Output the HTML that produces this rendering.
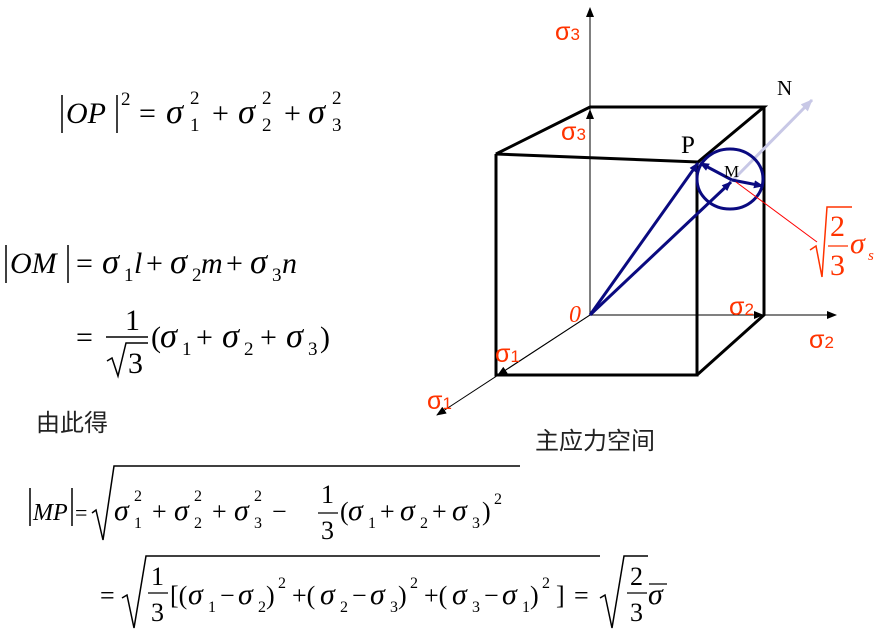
<!DOCTYPE html>
<html><head><meta charset="utf-8"><style>
body{margin:0;background:#fff}
svg{display:block}
.t{font-family:"Liberation Serif",serif;fill:#000}
.r{font-family:"Liberation Sans",sans-serif;fill:#ff3300}
.i{font-style:italic}
.s{font-size:1.15em}
</style></head><body>
<svg width="884" height="636" viewBox="0 0 884 636" xmlns="http://www.w3.org/2000/svg">
<defs>
<marker id="ak" markerWidth="10" markerHeight="8" refX="9" refY="4" orient="auto" markerUnits="userSpaceOnUse"><path d="M0,0 L10,4 L0,8 Z" fill="#000"/></marker>
<marker id="ab" markerWidth="10" markerHeight="8" refX="9" refY="4" orient="auto" markerUnits="userSpaceOnUse"><path d="M0,0 L10,4 L0,8 Z" fill="#0a0a80"/></marker>
<marker id="al" markerWidth="12" markerHeight="10" refX="11" refY="5" orient="auto" markerUnits="userSpaceOnUse"><path d="M0,0 L12,5 L0,10 Z" fill="#c8c8e6"/></marker>
</defs>
<g stroke="#000" stroke-width="1">
<line x1="590" y1="315" x2="590" y2="8" marker-end="url(#ak)"/>
<line x1="590" y1="315" x2="836" y2="315" marker-end="url(#ak)"/>
<line x1="590" y1="315" x2="437" y2="415" marker-end="url(#ak)"/>
<line x1="590" y1="315" x2="590" y2="110" marker-end="url(#ak)"/>
<line x1="590" y1="315" x2="763" y2="315" marker-end="url(#ak)"/>
<line x1="590" y1="315" x2="498" y2="375" marker-end="url(#ak)"/>
</g>
<g stroke="#000" stroke-width="3" fill="none">
<polygon points="590,107 764,107 698,162 496,154"/>
<polyline points="496,154 496,375 697,375 697,162"/>
<polyline points="764,107 764,315 697,375"/>
</g>
<line x1="732" y1="181" x2="812" y2="100" stroke="#c8c8e6" stroke-width="3" marker-end="url(#al)"/>
<ellipse cx="730" cy="179" rx="33" ry="30" fill="none" stroke="#0a0a80" stroke-width="3"/>
<g stroke="#0a0a80" stroke-width="3" fill="none">
<line x1="590" y1="315" x2="698" y2="163" marker-end="url(#ab)"/>
<line x1="590" y1="315" x2="731" y2="182" marker-end="url(#ab)"/>
<line x1="732" y1="180" x2="700" y2="163" marker-end="url(#ab)"/>
<line x1="732" y1="180" x2="763" y2="186" marker-end="url(#ab)"/>
</g>
<line x1="736" y1="182" x2="817" y2="242" stroke="#ff0000" stroke-width="1"/>
<g class="r" font-size="25">
<text x="555" y="40">σ<tspan font-size="17">3</tspan></text>
<text x="561" y="140">σ<tspan font-size="17">3</tspan></text>
<text x="729" y="315">σ<tspan font-size="17">2</tspan></text>
<text x="809" y="348">σ<tspan font-size="17">2</tspan></text>
<text x="495" y="362">σ<tspan font-size="17">1</tspan></text>
<text x="427" y="409">σ<tspan font-size="17">1</tspan></text>
</g>
<text x="569" y="322" font-family="Liberation Serif,serif" font-style="italic" font-size="24" fill="#ff3300">0</text>
<text x="681" y="153" class="t" font-size="25">P</text>
<text x="724" y="177" class="t" font-size="17">M</text>
<text x="777" y="95" class="t" font-size="21">N</text>
<g font-family="Liberation Serif,serif" fill="#ff3300">
<path d="M810,250 L816,246 L822,277 L827,207 L852,207" stroke="#ff3300" stroke-width="1.5" fill="none"/>
<text x="830" y="236" font-size="30">2</text>
<line x1="828" y1="246" x2="848" y2="246" stroke="#ff3300" stroke-width="1.2"/>
<text x="830" y="275" font-size="30">3</text>
<text x="850" y="253" font-size="30" font-style="italic">σ</text>
<text x="868" y="260" font-size="15" font-style="italic">s</text>
</g>
<text x="36" y="431" font-family="Noto Sans CJK SC,sans-serif" font-size="24" fill="#222">由此得</text>
<text x="535" y="449" font-family="Noto Sans CJK SC,sans-serif" font-size="24" fill="#222">主应力空间</text>
<g class="t" font-size="30">
<line x1="62" y1="95" x2="62" y2="133" stroke="#000" stroke-width="1.5"/>
<text x="66" y="123" class="i">OP</text>
<line x1="117" y1="95" x2="117" y2="133" stroke="#000" stroke-width="1.5"/>
<text x="121" y="105" font-size="19">2</text>
<text x="139" y="123">=</text>
<text x="166" y="123" class="i s">σ</text><text x="190" y="131" font-size="19">1</text><text x="190" y="104" font-size="19">2</text>
<text x="212" y="123">+</text>
<text x="238" y="123" class="i s">σ</text><text x="262" y="131" font-size="19">2</text><text x="262" y="104" font-size="19">2</text>
<text x="284" y="123">+</text>
<text x="308" y="123" class="i s">σ</text><text x="332" y="131" font-size="19">3</text><text x="332" y="104" font-size="19">2</text>
</g>
<g class="t" font-size="30">
<line x1="6" y1="245" x2="6" y2="283" stroke="#000" stroke-width="1.5"/>
<text x="10" y="273" class="i">OM</text>
<line x1="68" y1="245" x2="68" y2="283" stroke="#000" stroke-width="1.5"/>
<text x="76" y="273">=</text>
<text x="102" y="273" class="i s">σ</text><text x="124" y="281" font-size="19">1</text><text x="134" y="273" class="i">l</text>
<text x="146" y="273">+</text>
<text x="170" y="273" class="i s">σ</text><text x="192" y="281" font-size="19">2</text><text x="201" y="273" class="i">m</text>
<text x="226" y="273">+</text>
<text x="250" y="273" class="i s">σ</text><text x="272" y="281" font-size="19">3</text><text x="282" y="273" class="i">n</text>
</g>
<g class="t" font-size="30">
<text x="76" y="347">=</text>
<text x="125" y="330">1</text>
<line x1="106" y1="337" x2="148" y2="337" stroke="#000" stroke-width="1.5"/>
<path d="M107,361 L112,358 L118,376 L126,343 L148,343" stroke="#000" stroke-width="1.5" fill="none"/>
<text x="128" y="373">3</text>
<text x="151" y="347">(</text>
<text x="160" y="347" class="i s">σ</text><text x="182" y="355" font-size="19">1</text>
<text x="196" y="347">+</text>
<text x="222" y="347" class="i s">σ</text><text x="244" y="355" font-size="19">2</text>
<text x="260" y="347">+</text>
<text x="286" y="347" class="i s">σ</text><text x="308" y="355" font-size="19">3</text>
<text x="320" y="347">)</text>
</g>
<g class="t" font-size="26">
<line x1="30" y1="488" x2="30" y2="526" stroke="#000" stroke-width="1.5"/>
<text x="33" y="520" class="i" font-size="24">MP</text>
<line x1="72" y1="488" x2="72" y2="526" stroke="#000" stroke-width="1.5"/>
<text x="75" y="520" font-size="22">=</text>
<path d="M92,513 L96,510 L103,540 L114,466 L520,466" stroke="#000" stroke-width="1.5" fill="none"/>
<text x="114" y="520" class="i s">σ</text><text x="134" y="528" font-size="16">1</text><text x="134" y="501" font-size="16">2</text>
<text x="152" y="520">+</text>
<text x="174" y="520" class="i s">σ</text><text x="194" y="528" font-size="16">2</text><text x="194" y="501" font-size="16">2</text>
<text x="212" y="520">+</text>
<text x="234" y="520" class="i s">σ</text><text x="254" y="528" font-size="16">3</text><text x="254" y="501" font-size="16">2</text>
<text x="272" y="520">−</text>
<text x="321" y="503">1</text>
<line x1="318" y1="513" x2="338" y2="513" stroke="#000" stroke-width="1.3"/>
<text x="321" y="539">3</text>
<text x="340" y="520">(</text>
<text x="348" y="520" class="i s">σ</text><text x="368" y="528" font-size="16">1</text>
<text x="380" y="520">+</text>
<text x="400" y="520" class="i s">σ</text><text x="420" y="528" font-size="16">2</text>
<text x="432" y="520">+</text>
<text x="452" y="520" class="i s">σ</text><text x="472" y="528" font-size="16">3</text>
<text x="482" y="520">)</text><text x="494" y="504" font-size="16">2</text>
</g>
<g class="t" font-size="26">
<text x="100" y="604">=</text>
<path d="M122,598 L127,595 L134,628 L146,556 L600,556" stroke="#000" stroke-width="1.5" fill="none"/>
<text x="151" y="585">1</text>
<line x1="148" y1="593" x2="168" y2="593" stroke="#000" stroke-width="1.3"/>
<text x="151" y="621">3</text>
<text x="170" y="604">[(</text>
<text x="188" y="604" class="i s">σ</text><text x="208" y="612" font-size="16">1</text>
<text x="220" y="604">−</text>
<text x="238" y="604" class="i s">σ</text><text x="258" y="612" font-size="16">2</text>
<text x="266" y="604">)</text><text x="278" y="588" font-size="16">2</text>
<text x="292" y="604">+(</text>
<text x="320" y="604" class="i s">σ</text><text x="340" y="612" font-size="16">2</text>
<text x="352" y="604">−</text>
<text x="370" y="604" class="i s">σ</text><text x="390" y="612" font-size="16">3</text>
<text x="398" y="604">)</text><text x="410" y="588" font-size="16">2</text>
<text x="424" y="604">+(</text>
<text x="452" y="604" class="i s">σ</text><text x="472" y="612" font-size="16">3</text>
<text x="484" y="604">−</text>
<text x="502" y="604" class="i s">σ</text><text x="522" y="612" font-size="16">1</text>
<text x="530" y="604">)</text><text x="542" y="588" font-size="16">2</text>
<text x="556" y="604">]</text>
<text x="574" y="604">=</text>
<path d="M600,598 L605,595 L612,628 L624,556 L648,556" stroke="#000" stroke-width="1.5" fill="none"/>
<text x="630" y="585">2</text>
<line x1="627" y1="593" x2="647" y2="593" stroke="#000" stroke-width="1.3"/>
<text x="630" y="621">3</text>
<text x="648" y="604" class="i s">σ</text>
<line x1="649" y1="584" x2="667" y2="584" stroke="#000" stroke-width="1.3"/>
</g>
</svg>
</body></html>
